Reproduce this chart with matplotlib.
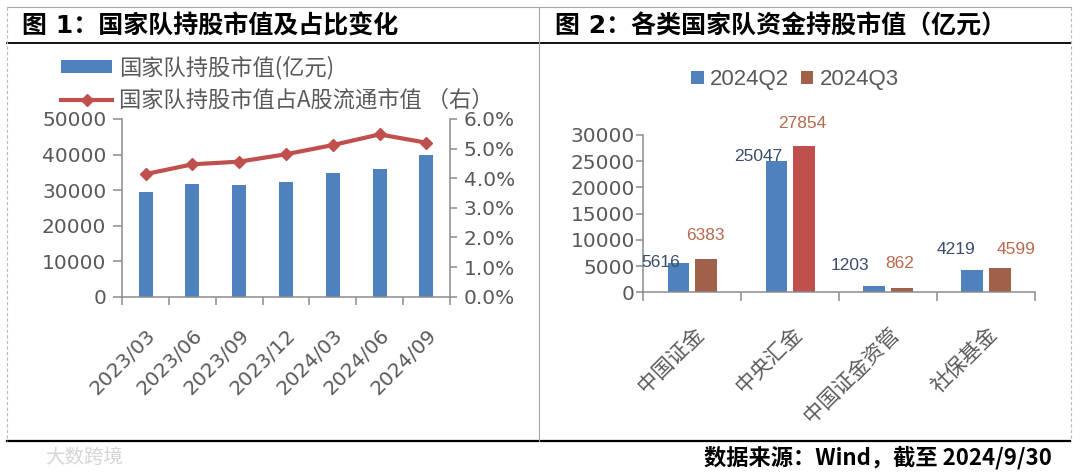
import matplotlib
matplotlib.use("Agg")
from matplotlib import pyplot as plt
from matplotlib.lines import Line2D
from matplotlib.patches import Patch
from matplotlib.ticker import FuncFormatter
import numpy as np

plt.rcParams['font.family'] = ['DejaVu Sans', 'Noto Sans CJK SC']

# Figure 1 data
quarters = ["2023/03", "2023/06", "2023/09", "2023/12", "2024/03", "2024/06", "2024/09"]
holding_value = [29500, 31700, 31400, 32200, 34900, 36000, 39900]      # 亿元
holding_pct = [4.14, 4.47, 4.56, 4.81, 5.12, 5.48, 5.20]               # %

# Figure 2 data
funds = ["中国证金", "中央汇金", "中国证金资管", "社保基金"]
q2_values = [5616, 25047, 1203, 4219]
q3_values = [6383, 27854, 862, 4599]

BLUE = "#4F81BD"
RED = "#C0504D"
BROWN = "#A0604A"
GRAY = "#595959"
SPINE = "#8C8C8C"

W, H = 1080, 472
fig = plt.figure(figsize=(W / 100, H / 100), dpi=100)


def fx(px):
    return px / W


def fy(py):
    return 1 - py / H


# frame lines
def hline(y, x0, x1, **kw):
    fig.add_artist(Line2D([fx(x0), fx(x1)], [fy(y), fy(y)], transform=fig.transFigure, **kw))


def vline(x, y0, y1, **kw):
    fig.add_artist(Line2D([fx(x), fx(x)], [fy(y0), fy(y1)], transform=fig.transFigure, **kw))


hline(7.3, 7.3, 1071, color="#A6A6A6", lw=0.8)
hline(43.3, 7.3, 1071, color="black", lw=1.3)
hline(440.7, 7.3, 1070, color="black", lw=1.6)
vline(538.5, 7.3, 440.7, color="#A6A6A6", lw=0.8)
vline(7.3, 7.3, 440.7, color="#BBBBBB", lw=0.8, ls=(0, (3, 2)))
vline(1070.7, 7.3, 440.7, color="#BBBBBB", lw=0.8, ls=(0, (3, 2)))

# titles and footer
fig.text(fx(22), fy(26.5), "图 1：国家队持股市值及占比变化", fontsize=18, fontweight="bold",
         va="center", ha="left", color="black")
fig.text(fx(555), fy(26.5), "图 2：各类国家队资金持股市值（亿元）", fontsize=18, fontweight="bold",
         va="center", ha="left", color="black")
fig.text(fx(1052), fy(458), "数据来源：Wind，截至 2024/9/30", fontsize=16, fontweight="bold",
         va="center", ha="right", color="black", family=["Noto Sans CJK SC"])
fig.text(fx(45), fy(457), "大数跨境", fontsize=14, va="center", ha="left", color="#D5D5D5")

# ---------- Figure 1 ----------
ax1 = fig.add_axes([fx(122.3), fy(296.7), fx(449.7) - fx(122.3), fy(119) - fy(296.7)])
x = np.arange(len(quarters))
ax1.bar(x, holding_value, width=0.3, color=BLUE, zorder=2)
ax1.set_xlim(-0.5, len(quarters) - 0.5)
ax1.set_ylim(0, 50000)
ax1.set_yticks(np.arange(0, 50001, 10000))
ax1.set_xticks(x)
ax1.set_xticklabels(quarters, rotation=45, ha="right", va="top", rotation_mode="anchor")
ax1.set_xticks(np.arange(-0.5, len(quarters), 1), minor=True)
ax1.tick_params(axis="x", which="major", length=0, pad=21, labelsize=14.5, labelcolor=GRAY)
ax1.tick_params(axis="x", which="minor", length=6, width=1.1, color=SPINE, direction="out")
ax1.tick_params(axis="y", length=6.5, width=1.1, color=SPINE, pad=5, labelsize=14.5, labelcolor=GRAY)
for s in ["top", "right"]:
    ax1.spines[s].set_visible(False)
for s in ["left", "bottom"]:
    ax1.spines[s].set_color(SPINE)
    ax1.spines[s].set_linewidth(1.1)

ax2 = ax1.twinx()
ax2.plot(x, holding_pct, color=RED, lw=3, marker="D", markersize=6.5, zorder=3)
ax2.set_ylim(0, 6)
ax2.set_yticks(np.arange(0, 6.01, 1))
ax2.yaxis.set_major_formatter(FuncFormatter(lambda v, p: f"{v:.1f}%"))
ax2.tick_params(axis="y", length=5, width=1.1, color=SPINE, pad=5, labelsize=14.5, labelcolor=GRAY)
for s in ["top", "left", "bottom"]:
    ax2.spines[s].set_visible(False)
ax2.spines["right"].set_color(SPINE)
ax2.spines["right"].set_linewidth(1.1)

leg1_handles = [
    Patch(facecolor=BLUE, edgecolor="none"),
    Line2D([], [], color=RED, lw=3, marker="D", markersize=6.5),
]
fig.legend(leg1_handles, ["国家队持股市值(亿元)", "国家队持股市值占A股流通市值 （右）"],
           loc="upper left", bbox_to_anchor=(fx(61), fy(56)), frameon=False,
           labelcolor=GRAY, handlelength=2.3, handleheight=0.5,
           handletextpad=0.3, labelspacing=0.42, borderpad=0, borderaxespad=0,
           prop={"family": ["Noto Sans CJK SC"], "size": 16})

# ---------- Figure 2 ----------
ax3 = fig.add_axes([fx(643.3), fy(292.3), fx(1035) - fx(643.3), fy(135) - fy(292.3)])
xf = np.arange(len(funds))
off = 0.142
bw = 0.22
q3_colors = [BROWN, RED, BROWN, BROWN]
ax3.bar(xf - off, q2_values, width=bw, color=BLUE, zorder=2)
ax3.bar(xf + off, q3_values, width=bw, color=q3_colors, zorder=2)
ax3.set_xlim(-0.5, len(funds) - 0.5)
ax3.set_ylim(0, 30000)
ax3.set_yticks(np.arange(0, 30001, 5000))
ax3.set_xticks(xf)
ax3.set_xticklabels(funds, rotation=45, ha="right", va="top", rotation_mode="anchor",
                    family=["Noto Sans CJK SC"])
ax3.set_xticks(np.arange(-0.5, len(funds), 1), minor=True)
ax3.tick_params(axis="x", which="major", length=0, pad=22, labelsize=15, labelcolor=GRAY)
ax3.tick_params(axis="x", which="minor", length=6.7, width=1.1, color=SPINE, direction="out")
ax3.tick_params(axis="y", length=5, width=1.1, color=SPINE, pad=1, labelsize=14.5, labelcolor=GRAY)
for s in ["top", "right"]:
    ax3.spines[s].set_visible(False)
for s in ["left", "bottom"]:
    ax3.spines[s].set_color(SPINE)
    ax3.spines[s].set_linewidth(1.1)

# label offsets in points (dx, dy) from bar top centre
q2_offsets = [(-12.6, 0), (-13.3, 3), (-17.3, 14.4), (-11.5, 15)]
q3_offsets = [(-0.7, 16.5), (-1.4, 16.5), (-1.4, 17.3), (11.5, 13.7)]
for i, v in enumerate(q2_values):
    ax3.annotate(str(v), (xf[i] - off, v), xytext=q2_offsets[i], textcoords="offset points",
                 ha="center", va="center", fontsize=12.5, color="#3A4D6B",
                 family=["Liberation Sans"])
for i, v in enumerate(q3_values):
    ax3.annotate(str(v), (xf[i] + off, v), xytext=q3_offsets[i], textcoords="offset points",
                 ha="center", va="center", fontsize=12.5, color="#B8694E",
                 family=["Liberation Sans"])

leg2_handles = [Patch(facecolor=BLUE, edgecolor="none"), Patch(facecolor=BROWN, edgecolor="none")]
fig.legend(leg2_handles, ["2024Q2", "2024Q3"], loc="center", bbox_to_anchor=(fx(795), fy(80)),
           ncol=2, frameon=False, handlelength=0.55, handleheight=0.55, handletextpad=0.3,
           columnspacing=0.5, labelcolor=GRAY, prop={"family": ["Liberation Sans"], "size": 16})

fig.savefig("out.png", dpi=100)
